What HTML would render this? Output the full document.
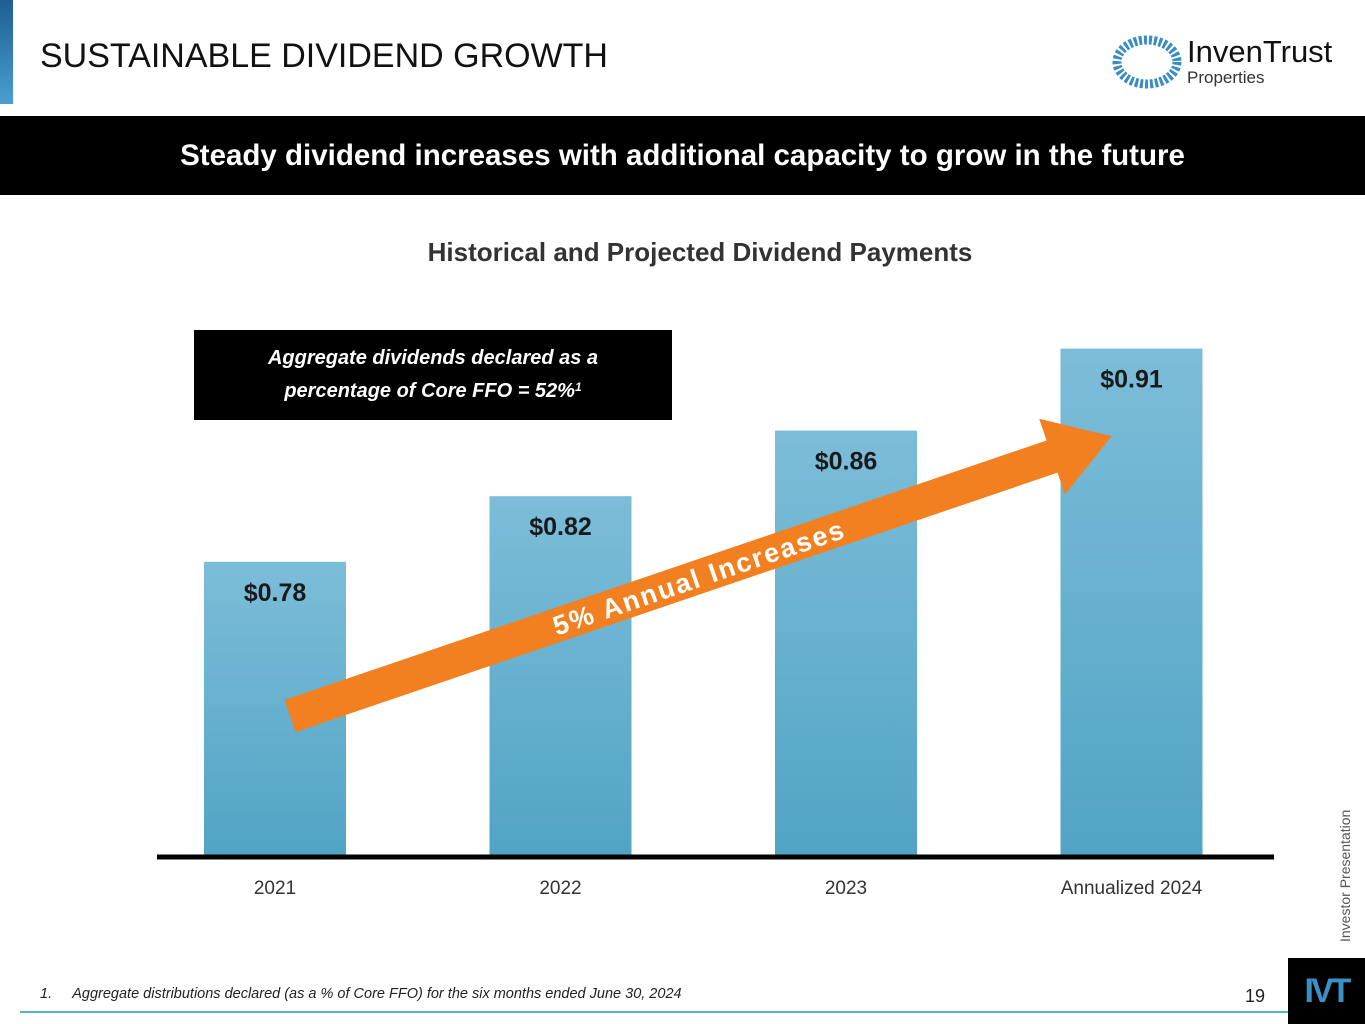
<!DOCTYPE html>
<html><head><meta charset="utf-8">
<style>
body{margin:0;width:1365px;height:1024px;background:#fff;position:relative;overflow:hidden;font-family:"Liberation Sans","DejaVu Sans",sans-serif;}
.abs{position:absolute;}
</style></head><body>
<div class="abs" style="left:0;top:0;width:13px;height:104px;background:linear-gradient(#1d5f93,#4a9fd0);"></div>
<div class="abs" style="left:40px;top:37px;font-size:34px;color:#111;">SUSTAINABLE DIVIDEND GROWTH</div>
<div class="abs" style="left:1112px;top:32px;width:225px;height:60px;">
<svg width="70" height="60" style="position:absolute;left:0;top:0"><ellipse cx="35" cy="30" rx="30" ry="22" fill="none" stroke="#3a8cc4" stroke-width="9" stroke-dasharray="3 2"/></svg>
<div class="abs" style="left:75px;top:2px;font-size:31px;color:#111;">InvenTrust</div>
<div class="abs" style="left:75px;top:36px;font-size:17px;color:#333;">Properties</div>
</div>
<div class="abs" style="left:0;top:116px;width:1365px;height:79px;background:#000;color:#fff;font-weight:bold;font-size:29.5px;text-align:center;line-height:79px;">Steady dividend increases with additional capacity to grow in the future</div>
<div class="abs" style="left:0;width:1400px;top:237px;text-align:center;font-size:26px;font-weight:bold;color:#333;">Historical and Projected Dividend Payments</div>
<div class="abs" style="left:194px;top:330px;width:478px;height:90px;background:#000;color:#fff;font-style:italic;font-weight:bold;font-size:20px;text-align:center;display:flex;align-items:center;justify-content:center;line-height:29px;"><div>Aggregate dividends declared as a<br>percentage of Core FFO = 52%<span style="font-size:12px;vertical-align:6px">1</span></div></div>
<svg id="chart" class="abs" style="left:0;top:0" width="1365" height="1024">
<defs><linearGradient id="bg" x1="0" y1="0" x2="0" y2="1"><stop offset="0" stop-color="#7cbdd9"/><stop offset="1" stop-color="#51a4c4"/></linearGradient></defs>
</svg>
<div class="abs" style="left:1337px;top:942px;transform:rotate(-90deg);transform-origin:0 0;font-size:14px;color:#555;white-space:nowrap;">Investor Presentation</div>
<div class="abs" style="left:40px;top:986px;font-size:14.5px;font-style:italic;color:#222;">1.&nbsp;&nbsp;&nbsp;&nbsp;&nbsp;Aggregate distributions declared (as a % of Core FFO) for the six months ended June 30, 2024</div>
<div class="abs" style="left:1245px;top:986px;font-size:18px;color:#222;">19</div>
<div class="abs" style="left:20px;top:1011px;width:1268px;height:2px;background:#5aaed0;"></div>
<div class="abs" style="left:1288px;top:958px;width:77px;height:66px;background:#000;color:#3b8fc7;font-weight:bold;font-size:34px;line-height:66px;text-align:center;letter-spacing:-3px;">IVT</div>
<script>
const categories=["2021","2022","2023","Annualized 2024"];
const values=[0.78,0.82,0.86,0.91];
const labels=["$0.78","$0.82","$0.86","$0.91"];
const svg=document.getElementById('chart');
const NS='http://www.w3.org/2000/svg';
const base=857,yMin=0.6,pxPer=1640;
function y(v){return base-(v-yMin)*pxPer;}
function x(i){return 204+i*285.5;}
const bw=142;
categories.forEach((c,i)=>{
 const r=document.createElementNS(NS,'rect');
 r.setAttribute('x',x(i));r.setAttribute('y',y(values[i]));r.setAttribute('width',bw);r.setAttribute('height',base-y(values[i]));r.setAttribute('fill','url(#bg)');
 
 
 svg.appendChild(r);
 const t=document.createElementNS(NS,'text');
 t.setAttribute('x',x(i)+bw/2);t.setAttribute('y',y(values[i])+39);t.setAttribute('text-anchor','middle');t.setAttribute('font-size','25');t.setAttribute('font-weight','bold');t.setAttribute('fill','#1a1a1a');t.textContent=labels[i];
 
 
 svg.appendChild(t);
 const l=document.createElementNS(NS,'text');
 l.setAttribute('x',x(i)+bw/2);l.setAttribute('y',894);l.setAttribute('text-anchor','middle');l.setAttribute('font-size','19');l.setAttribute('fill','#333');l.textContent=c;
 
 
 svg.appendChild(l);
});
const ax=document.createElementNS(NS,'line');
ax.setAttribute('x1',157);ax.setAttribute('x2',1274);ax.setAttribute('y1',base);ax.setAttribute('y2',base);ax.setAttribute('stroke','#000');ax.setAttribute('stroke-width','5');


svg.appendChild(ax);
const g=document.createElementNS(NS,'g');
g.setAttribute('transform','translate(290,716) rotate(-18.8)');


g.innerHTML='<polygon points="0,-17 805,-17 805,-40 868,0 805,40 805,17 0,17" fill="#f28020"/><text x="432" y="10" text-anchor="middle" font-size="27" font-weight="bold" fill="#fff" letter-spacing="2">5% Annual Increases</text>';
svg.appendChild(g);
</script>
</body></html>
